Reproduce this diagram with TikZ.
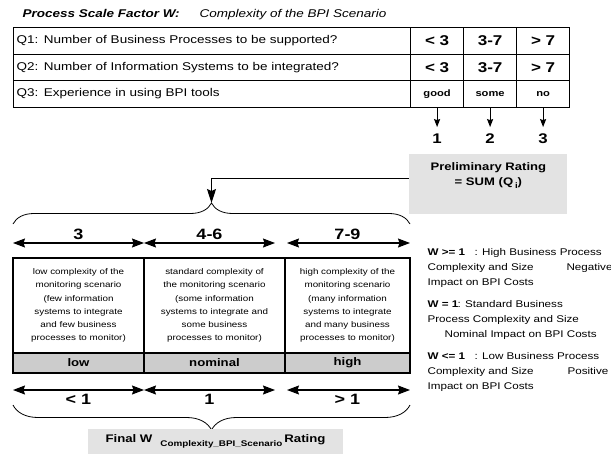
\documentclass[tikz,border=0pt]{standalone}
\usepackage{fontspec}
\setmainfont[FakeStretch=1.2]{Liberation Sans}
\usetikzlibrary{matrix,arrows.meta,decorations.pathreplacing,positioning}
\newcommand{\fsz}[2]{\fontsize{#1pt}{#2pt}\selectfont}

\begin{document}
\begin{tikzpicture}[x=1pt, y=-1pt, line width=1.2pt,
  cell/.style={draw, anchor=center, inner sep=0pt, outer sep=0pt},
  lightbox/.style={fill=gray!22, draw=none, inner sep=0pt},
  classbox/.style={draw, anchor=north west, inner sep=0pt, outer sep=0pt, align=center, minimum height=95pt, font=\fsz{8.2}{13.2}},
  ratebox/.style={draw, anchor=north west, inner sep=0pt, outer sep=0pt, fill=gray!40, minimum height=20pt, font=\fsz{11}{13}\bfseries},
  bigtip/.style={{Stealth[length=12pt,width=9pt,inset=1.5pt]}-{Stealth[length=12pt,width=9pt,inset=1.5pt]}},
  smalltip/.style={-{Stealth[length=8pt,width=6pt,inset=1pt]}},
  rangelabel/.style={font=\fsz{15}{17}\bfseries, inner sep=1pt},
  bracedeco/.style={decorate, line width=0.8pt, decoration={brace, amplitude=#1}},
  legend/.style={anchor=west, align=left, inner sep=0pt, font=\fsz{9.7}{15}}]
\useasboundingbox (0,0) rectangle (611,455);

% title
\node[anchor=base west, inner sep=0pt, font=\fsz{11.25}{13}\bfseries\itshape] (title) at (22,17) {Process Scale Factor W:};
\node[anchor=base west, inner sep=0pt, font=\fsz{11.25}{13}\itshape] (subtitle) at (199,17) {Complexity of the BPI Scenario};

% questions
\matrix (Q)[matrix of nodes, anchor=north west, inner sep=0pt, outer sep=0pt, column sep=-\pgflinewidth, row sep=-\pgflinewidth,
  nodes={cell, minimum height=26.5pt, font=\fsz{14.2}{16}\bfseries},
  column 1/.style={nodes={text width=391pt, inner xsep=3pt, align=left, font=\fsz{11.25}{13}}},
  column 2/.style={nodes={minimum width=53pt}},
  column 3/.style={nodes={minimum width=53pt}},
  column 4/.style={nodes={minimum width=53pt}}] at (13,27) {
Q1: Number of Business Processes to be supported? & < 3 & 3-7 & > 7 \\
Q2: Number of Information Systems to be integrated? & < 3 & 3-7 & > 7 \\
Q3: Experience in using BPI tools & |[font=\fsz{9.3}{11}\bfseries]| good & |[font=\fsz{9.3}{11}\bfseries]| some & |[font=\fsz{9.3}{11}\bfseries]| no \\
};

\node[font=\fsz{14}{16}\bfseries, inner xsep=0pt, inner ysep=6pt, below=20pt of Q-3-2] (n1) {1};
\node[font=\fsz{14}{16}\bfseries, inner xsep=0pt, inner ysep=6pt, below=20pt of Q-3-3] (n2) {2};
\node[font=\fsz{14}{16}\bfseries, inner xsep=0pt, inner ysep=6pt, below=20pt of Q-3-4] (n3) {3};
\draw[smalltip] (Q-3-2.south) -- (n1.north);
\draw[smalltip] (Q-3-3.south) -- (n2.north);
\draw[smalltip] (Q-3-4.south) -- (n3.north);

% preliminary rating
\node[lightbox, minimum width=158pt, minimum height=60pt, anchor=north east] (prelim) at (568,153) {};
\node[font=\fsz{10.9}{15}\bfseries, align=center, inner sep=0pt] (prelimtext) at ([yshift=8.5pt]prelim.center) {Preliminary Rating\\ = SUM (Q\,\raisebox{-3pt}{\fsz{8}{8}i})};

% complexity classes
\node[classbox, minimum width=131pt] (c1) at (13,258) {low complexity of the\\ monitoring scenario\\ (few information\\ systems to integrate\\ and few business\\ processes to monitor)};
\node[classbox, minimum width=141pt] (c2) at (c1.north east) {standard complexity of\\ the monitoring scenario\\ (some information\\ systems to integrate and\\ some business\\ processes to monitor)};
\node[classbox, minimum width=125pt] (c3) at (c2.north east) {high complexity of the\\ monitoring scenario\\ (many information\\ systems to integrate\\ and many business\\ processes to monitor)};
\node[ratebox, minimum width=131pt] (g1) at (c1.south west) {low};
\node[ratebox, minimum width=141pt] (g2) at (c2.south west) {nominal};
\node[ratebox, minimum width=125pt] (g3) at (c3.south west) {high};

\coordinate (rtip) at (211.5,203);
\draw[bracedeco=21pt] ([yshift=34pt]c1.north west) -- ([yshift=34pt]c3.north east);
\draw[-{Stealth[length=14pt,width=9pt,inset=2pt]}] ([yshift=5pt]prelim.west) -| (rtip);

\draw[bigtip] ([yshift=15pt]c1.north west) -- node[rangelabel, above=2pt] {3} ([yshift=15pt]c1.north east);
\draw[bigtip, shorten >=10pt] ([yshift=15pt]c2.north west) -- node[rangelabel, above=2pt, xshift=-5pt] {4-6} ([yshift=15pt]c2.north east);
\draw[bigtip, shorten <=2pt] ([yshift=15pt]c3.north west) -- node[rangelabel, above=2pt] {7-9} ([yshift=15pt]c3.north east);

\draw[bigtip] ([yshift=-17pt]g1.south west) -- node[rangelabel, below=3pt] {< 1} ([yshift=-17pt]g1.south east);
\draw[bigtip, shorten >=10pt] ([yshift=-17pt]g2.south west) -- node[rangelabel, below=3pt, xshift=-5pt] {1} ([yshift=-17pt]g2.south east);
\draw[bigtip, shorten <=2pt] ([yshift=-17pt]g3.south west) -- node[rangelabel, below=3pt] {> 1} ([yshift=-17pt]g3.south east);

\draw[bracedeco=25pt] ([yshift=-32pt]g3.south east) -- ([yshift=-32pt]g1.south west);
\node[lightbox, minimum width=255pt, minimum height=25pt, font=\fsz{11}{13}\bfseries] (final) at (215.5,441.5) {Final W\hspace{8pt}\raisebox{-4pt}{\fsz{8.2}{9}Complexity\_BPI\_Scenario}\hspace{2pt}Rating};

% legend
\node[legend] (wbig) at (427,268) {\makebox[47pt][l]{\bfseries W >= 1}: High Business Process\\ \makebox[139pt][l]{Complexity and Size}Negative\\ Impact on BPI Costs};
\node[legend] (wone) at (427,319.5) {\makebox[30pt][l]{\bfseries W = 1}: Standard Business\\ Process Complexity and Size\\ \hspace*{17pt}Nominal Impact on BPI Costs};
\node[legend] (wsmall) at (427,372) {\makebox[47pt][l]{\bfseries W <= 1}: Low Business Process\\ \makebox[140pt][l]{Complexity and Size}Positive\\ Impact on BPI Costs};
\end{tikzpicture}
\end{document}
